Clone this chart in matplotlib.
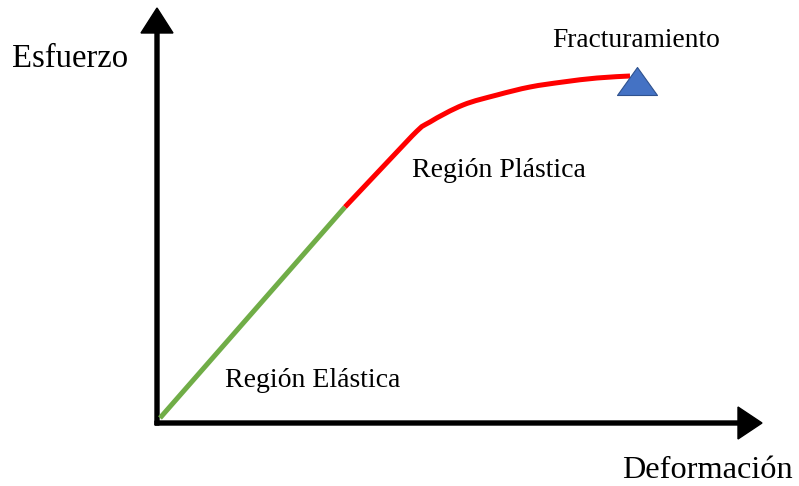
import matplotlib
matplotlib.use("Agg")
import matplotlib.pyplot as plt
import numpy as np
from matplotlib.path import Path
from matplotlib.patches import PathPatch

# Data (strain, stress) in arbitrary units
elastic_x = [3, 188]
elastic_y = [5, 216]
plastic_x = [188, 255, 273, 306, 340, 373, 406, 440, 473]
plastic_y = [216, 287, 301, 318, 328, 336, 341, 345, 347]
fracture_x = [480]
fracture_y = [342]

label_y = "Esfuerzo"
label_x = "Deformación"
label_fracture = "Fracturamiento"
label_plastic = "Región Plástica"
label_elastic = "Región Elástica"

plt.rcParams['font.family'] = ['Liberation Serif', 'DejaVu Serif']

fig = plt.figure(figsize=(7.99, 4.86), dpi=100)
ax = fig.add_axes([0, 0, 1, 1])
ax.set_xlim(-157, 642)
ax.set_ylim(-63, 423)
ax.axis('off')

# axes arrows
ax.arrow(0, -2, 0, 417, width=4, head_width=32, head_length=25,
         length_includes_head=True, color='black', zorder=2)
ax.arrow(-2, 0, 607, 0, width=4, head_width=32, head_length=24,
         length_includes_head=True, color='black', zorder=2)

ax.plot(elastic_x, elastic_y, color='#70AD47', lw=3.6, solid_capstyle='butt', zorder=3)


def smooth_path(xs, ys, tension=1.0 / 6):
    """Cubic Bezier path through the points (Catmull-Rom style), straight first segment."""
    pts = np.column_stack([xs, ys]).astype(float)
    verts = [pts[0]]
    codes = [Path.MOVETO]
    n = len(pts)
    for i in range(n - 1):
        p0 = pts[i - 1] if i > 0 else pts[i]
        p1 = pts[i]
        p2 = pts[i + 1]
        p3 = pts[i + 2] if i + 2 < n else pts[i + 1]
        if i == 0:
            verts.append(p2)
            codes.append(Path.LINETO)
            continue
        c1 = p1 + (p2 - p0) * tension
        c2 = p2 - (p3 - p1) * tension
        verts += [c1, c2, p2]
        codes += [Path.CURVE4] * 3
    return Path(verts, codes)


ax.add_patch(PathPatch(smooth_path(plastic_x, plastic_y), facecolor='none',
                       edgecolor='#FF0000', lw=3.6, capstyle='butt',
                       joinstyle='round', zorder=3))

tri = Path([(-1, -0.7), (1, -0.7), (0, 0.7), (-1, -0.7)],
           [Path.MOVETO, Path.LINETO, Path.LINETO, Path.CLOSEPOLY])
ax.plot(fracture_x, fracture_y, marker=tri, markersize=28.8, color='#4472C4',
        markeredgecolor='#2F528F', markeredgewidth=0.8, linestyle='none', zorder=4)

ax.text(-145, 356, label_y, fontsize=23.5, va='baseline', ha='left')
ax.text(465, -55, label_x, fontsize=23.3, va='baseline', ha='left')
ax.text(395, 376, label_fracture, fontsize=19.8, va='baseline', ha='left')
ax.text(255, 246, label_plastic, fontsize=20, va='baseline', ha='left')
ax.text(68, 36, label_elastic, fontsize=20, va='baseline', ha='left')

fig.savefig("out.png", dpi=100, facecolor='white')
